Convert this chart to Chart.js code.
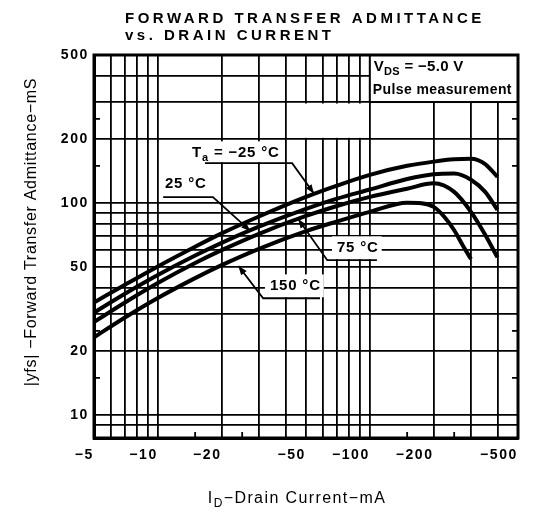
<!DOCTYPE html>
<html>
<head>
<meta charset="utf-8">
<script src="https://cdn.jsdelivr.net/npm/chart.js@4.4.0/dist/chart.umd.min.js"></script>
<style>
  html, body { margin: 0; padding: 0; background: #fff; }
  #wrap { width: 539px; height: 512px; position: relative; }
  canvas { display: block; }
</style>
</head>
<body>
<div id="wrap"><canvas id="c" width="539" height="512"></canvas></div>
<script>
// ---------------- data ----------------
const currents    = [5, 7, 10, 15, 20, 30, 50, 70, 100, 150, 200, 250, 300, 350, 400];   // |ID| mA
const currents150 = [5, 7, 10, 15, 20, 30, 50, 70, 100, 150, 175, 200, 225, 250, 275, 300];
const yfsMinus25  = [34, 41.2, 50.3, 62.3, 72, 86.5, 107, 121, 136, 150, 157, 161, 162, 153, 133];
const yfs25       = [30.5, 37.4, 45.8, 56.6, 65, 77.5, 94, 105, 116, 130, 137, 138, 129, 113, 93];
const yfs75       = [27.5, 34, 42, 52.2, 60, 71.7, 87, 97, 107, 117, 124, 113, 91, 71, 55.5];
const yfs150      = [23.3, 28.9, 35.7, 44.3, 51, 60.9, 73.8, 82, 91, 100.5, 100, 96, 86, 74.5, 63, 54.5];
const seriesNames = ['Ta = −25 °C', '25 °C', '75 °C', '150 °C'];

const xGridValues = [5, 6, 7, 8, 9, 10, 20, 30, 40, 50, 60, 70, 80, 90, 100, 200, 300, 400, 500];
const xTickLabels = [5, 10, 20, 50, 100, 200, 500];
const yGridValues = [9, 10, 20, 30, 40, 50, 60, 70, 80, 90, 100, 200, 300, 400, 500];
const yTickLabels = [10, 20, 50, 100, 200, 500];
const xMinorTicks = [15, 25, 150, 250];
const yMinorTicks = [15, 25, 150, 250];

const titleLines = ['FORWARD TRANSFER ADMITTANCE', 'vs. DRAIN CURRENT'];
const yAxisTitle = '|yfs| −Forward Transfer Admittance−mS';
const xAxisTitleParts = [['I', 0], ['D', 1], ['−Drain Current−mA', 0]];
const conditionLines = [[['V', 0], ['DS', 1], [' = −5.0 V', 0]], [['Pulse measurement', 0]]];

// curve labels, anchored in data units (mA, mS)
const curveLabels = [
  { parts: [['T', 0], ['a', 1], [' = −25 °C', 0]], at: [14.5, 165], leader: [[16.7, 154.5], [43, 154.5], [54.5, 111]] },
  { parts: [['25 °C', 0]],  at: [10.8, 117.7], leader: [[10.6, 106.7], [18.2, 106.7], [27.3, 74]] },
  { parts: [['75 °C', 0]],  at: [70, 58.8],    leader: [[108, 53.8], [63, 53.8], [46, 84]] },
  { parts: [['150 °C', 0]], at: [33.8, 38.9],  leader: [[58.2, 35.6], [31.4, 35.6], [24, 50.5]] }
];
const conditionBox = { x0: 100, x1: 500, y0: 300, y1: 500 };
const blankRegions = [{ x0: 40, x1: 100, y0: 200, y1: 300 }];

const FAM = '"Liberation Sans", Arial, Helvetica, sans-serif';

// ---------------- helpers ----------------
function partsWidth(ctx, parts, size, weight, spacing) {
  let w = 0;
  parts.forEach(([t, sub]) => {
    const fs = sub ? Math.round(size * 0.72) : size;
    ctx.font = `${weight} ${fs}px ${FAM}`;
    ctx.letterSpacing = spacing + 'px';
    w += ctx.measureText(t).width;
  });
  return w;
}
function drawParts(ctx, parts, x, yBase, size, weight, spacing) {
  let cx = x;
  ctx.textAlign = 'left';
  ctx.textBaseline = 'alphabetic';
  parts.forEach(([t, sub]) => {
    const fs = sub ? Math.round(size * 0.72) : size;
    ctx.font = `${weight} ${fs}px ${FAM}`;
    ctx.letterSpacing = spacing + 'px';
    ctx.fillText(t, cx, yBase + (sub ? size * 0.25 : 0));
    cx += ctx.measureText(t).width;
  });
  return cx - x;
}

const LBL_SIZE = 15, LBL_WEIGHT = 'bold', LBL_SP = 0.8;

const annoPlugin = {
  id: 'anno',
  beforeDraw(chart) {
    chart.ctx.letterSpacing = '1.6px';
  },
  beforeDatasetsDraw(chart) {
    const { ctx, scales: { x, y } } = chart;
    ctx.save();
    ctx.fillStyle = '#fff';
    blankRegions.forEach(r => {
      const x1 = x.getPixelForValue(r.x0) + 1.5, x2 = x.getPixelForValue(r.x1) - 1.5;
      const y1 = y.getPixelForValue(r.y1) + 1.5, y2 = y.getPixelForValue(r.y0) - 1.5;
      ctx.fillRect(x1, y1, x2 - x1, y2 - y1);
    });
    curveLabels.forEach(l => {
      const px = x.getPixelForValue(l.at[0]), py = y.getPixelForValue(l.at[1]);
      const w = partsWidth(ctx, l.parts, LBL_SIZE, LBL_WEIGHT, LBL_SP);
      const uy = y.getPixelForValue(l.leader[0][1]);
      ctx.fillRect(px - 5, py - LBL_SIZE * 0.78 - 4, w + 8, (uy - 1) - (py - LBL_SIZE * 0.78 - 4));
    });
    ctx.restore();
  },
  afterDatasetsDraw(chart) {
    const { ctx, chartArea: a, scales: { x, y } } = chart;
    ctx.save();
    ctx.fillStyle = '#000';
    ctx.strokeStyle = '#000';
    curveLabels.forEach(l => {
      const px = x.getPixelForValue(l.at[0]), py = y.getPixelForValue(l.at[1]);
      drawParts(ctx, l.parts, px, py, LBL_SIZE, LBL_WEIGHT, LBL_SP);
      const pts = l.leader.map(([vx, vy]) => [x.getPixelForValue(vx), y.getPixelForValue(vy)]);
      ctx.lineWidth = 1.8;
      ctx.beginPath();
      ctx.moveTo(pts[0][0], pts[0][1]);
      for (let i = 1; i < pts.length; i++) ctx.lineTo(pts[i][0], pts[i][1]);
      ctx.stroke();
      const [tx, ty] = pts[pts.length - 1], [sx, sy] = pts[pts.length - 2];
      const ang = Math.atan2(ty - sy, tx - sx);
      const L = 9, W = 3.5;
      ctx.beginPath();
      ctx.moveTo(tx, ty);
      ctx.lineTo(tx - L * Math.cos(ang) + W * Math.sin(ang), ty - L * Math.sin(ang) - W * Math.cos(ang));
      ctx.lineTo(tx - L * Math.cos(ang) - W * Math.sin(ang), ty - L * Math.sin(ang) + W * Math.cos(ang));
      ctx.closePath();
      ctx.fill();
    });
    // condition box
    const bx0 = x.getPixelForValue(conditionBox.x0), bx1 = x.getPixelForValue(conditionBox.x1);
    const by0 = y.getPixelForValue(conditionBox.y1), by1 = y.getPixelForValue(conditionBox.y0);
    ctx.fillStyle = '#fff';
    ctx.fillRect(bx0, by0, bx1 - bx0, by1 - by0);
    ctx.lineWidth = 2;
    ctx.strokeRect(bx0, by0, bx1 - bx0, by1 - by0);
    ctx.fillStyle = '#000';
    drawParts(ctx, conditionLines[0], bx0 + 4, by0 + 16, 15, 'bold', 0.3);
    drawParts(ctx, conditionLines[1], bx0 + 3, by0 + 39, 14, 'bold', 0.4);
    // minor ticks (inside)
    ctx.lineWidth = 1.8;
    ctx.beginPath();
    xMinorTicks.forEach(v => {
      const p = x.getPixelForValue(v);
      ctx.moveTo(p, a.bottom); ctx.lineTo(p, a.bottom - 6);
    });
    yMinorTicks.forEach(v => {
      const p = y.getPixelForValue(v);
      ctx.moveTo(a.left, p); ctx.lineTo(a.left + 6, p);
      ctx.moveTo(a.right, p); ctx.lineTo(a.right - 6, p);
    });
    ctx.stroke();
    // frame
    ctx.lineWidth = 3;
    ctx.strokeRect(a.left, a.top, a.right - a.left, a.bottom - a.top);
    ctx.restore();
  },
  afterDraw(chart) {
    const { ctx } = chart;
    ctx.save();
    ctx.fillStyle = '#000';
    // title
    ctx.textAlign = 'left';
    ctx.textBaseline = 'alphabetic';
    ctx.font = `bold 15px ${FAM}`;
    ctx.letterSpacing = '3.5px';
    ctx.fillText(titleLines[0], 125, 23);
    ctx.fillText(titleLines[1], 125, 40);
    // y axis title
    ctx.save();
    ctx.translate(32, 232);
    ctx.rotate(-Math.PI / 2);
    ctx.textAlign = 'center';
    ctx.textBaseline = 'middle';
    ctx.font = `16px ${FAM}`;
    ctx.letterSpacing = '0.7px';
    ctx.fillText(yAxisTitle, 0, 0);
    ctx.restore();
    // x axis title
    const w = partsWidth(ctx, xAxisTitleParts, 16, 'normal', 1.4);
    drawParts(ctx, xAxisTitleParts, 297 - w / 2, 503, 16, 'normal', 1.4);
    ctx.restore();
  }
};

const mk = (xs, ys) => xs.map((v, i) => ({ x: v, y: ys[i] }));
const ds = (label, data) => ({
  label, data, borderColor: '#000', borderWidth: 4, pointRadius: 0, fill: false,
  cubicInterpolationMode: 'monotone', borderCapStyle: 'butt'
});

const tickFont = { family: FAM, size: 14, weight: 'bold' };

new Chart(document.getElementById('c').getContext('2d'), {
  type: 'line',
  data: {
    datasets: [
      ds(seriesNames[0], mk(currents, yfsMinus25)),
      ds(seriesNames[1], mk(currents, yfs25)),
      ds(seriesNames[2], mk(currents, yfs75)),
      ds(seriesNames[3], mk(currents150, yfs150))
    ]
  },
  options: {
    responsive: false,
    animation: false,
    devicePixelRatio: 1,
    layout: { padding: { top: 55, right: 21, bottom: 0, left: 0 } },
    plugins: { legend: { display: false }, tooltip: { enabled: false }, title: { display: false } },
    scales: {
      x: {
        type: 'logarithmic', min: 5, max: 500,
        afterBuildTicks: s => { s.ticks = xGridValues.map(v => ({ value: v })); },
        afterFit: s => { s.height = 74; },
        ticks: {
          autoSkip: false, maxRotation: 0, minRotation: 0, align: 'end', padding: 9,
          color: '#000', font: tickFont,
          callback: v => xTickLabels.includes(v) ? '\u2212' + v : ''
        },
        grid: { color: '#000', lineWidth: 1.8, drawTicks: false },
        border: { color: '#000', width: 3 }
      },
      y: {
        type: 'logarithmic', min: 7.8, max: 500,
        afterBuildTicks: s => { s.ticks = yGridValues.map(v => ({ value: v })); },
        afterFit: s => { s.width = 94; },
        ticks: {
          autoSkip: false, padding: 5, color: '#000', font: tickFont,
          callback: v => yTickLabels.includes(v) ? String(v) : ''
        },
        grid: { color: '#000', lineWidth: 1.8, drawTicks: false },
        border: { color: '#000', width: 3 }
      }
    }
  },
  plugins: [annoPlugin]
});
</script>
</body>
</html>
